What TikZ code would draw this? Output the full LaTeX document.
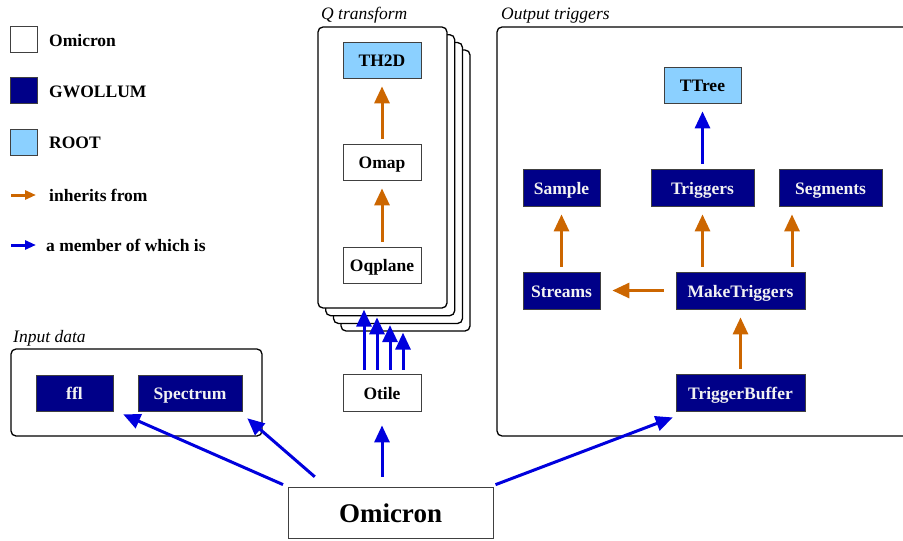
\documentclass[tikz,border=0pt]{standalone}
\usepackage{fontspec}
\setmainfont{Liberation Serif}
\usetikzlibrary{arrows.meta}
\definecolor{gwollum}{RGB}{0,0,136}
\definecolor{rootblue}{RGB}{139,208,255}
\definecolor{inhcol}{RGB}{204,102,0}
\definecolor{memcol}{RGB}{0,0,221}
\begin{document}
\begin{tikzpicture}[x=1pt,y=1pt,
    box/.style={draw=black!75,line width=0.8pt,inner sep=0pt,minimum height=36pt,text height=14pt,text depth=1pt,font=\fontsize{17.5}{20}\selectfont\bfseries},
    omibox/.style={box,fill=white},
    gwbox/.style={box,fill=gwollum,text=white!95!black},
    rootbox/.style={box,fill=rootblue},
    groupbox/.style={draw=black,line width=1.3pt,rounded corners=5pt},
    grouptitle/.style={anchor=base west,inner sep=0pt,font=\fontsize{17.5}{20}\selectfont\itshape},
    legendtext/.style={anchor=west,inner sep=0pt,font=\fontsize{17.5}{20}\selectfont\bfseries},
    inherit/.style={draw=inhcol,line width=3pt,-{Triangle[length=17pt,width=15pt]},shorten <=5pt,shorten >=8pt},
    member/.style={draw=memcol,line width=3pt,-{Triangle[length=17pt,width=15pt]},shorten <=5pt,shorten >=8pt}]
    \useasboundingbox (0,0) rectangle (903,-541);
    % legend
    \node[omibox,minimum width=27pt,minimum height=26pt] (lomi) at (23.5,-39.5) {};
    \node[legendtext] (lomitext) at (49,-41) {Omicron};
    \node[gwbox,minimum width=27pt,minimum height=26pt] (lgw) at (23.5,-90.5) {};
    \node[legendtext] (lgwtext) at (49,-92) {GWOLLUM};
    \node[rootbox,minimum width=27pt,minimum height=26pt] (lroot) at (23.5,-142) {};
    \node[legendtext] (lroottext) at (49,-143) {ROOT};
    \draw[inhcol,line width=3pt,-{Triangle[length=11pt,width=9pt]}] (11,-195)--(36,-195);
    \node[legendtext] (linh) at (49,-195) {inherits from};
    \draw[memcol,line width=3pt,-{Triangle[length=11pt,width=9pt]}] (11,-245)--(36,-245);
    \node[legendtext] (lmem) at (46,-245) {a member of which is};
    % Q transform
    \foreach \i/\d in {3/23,2/15.5,1/7.7,0/0}
        \node[groupbox,fill=white,minimum width=129pt,minimum height=281pt,inner sep=0pt] (q\i) at (382.5+\d,-167.5-\d) {};
    \node[grouptitle] (qtitle) at (321,-19) {Q transform};
    \node[rootbox,minimum width=78pt] (th2d) at (382,-60) {TH2D};
    \node[omibox,minimum width=78pt] (omap) at (382,-162) {Omap};
    \node[omibox,minimum width=78pt] (oqplane) at (382,-265) {Oqplane};
    \draw[inherit] (oqplane) -- (omap);
    \draw[inherit] (omap) -- (th2d);
    \node[omibox,minimum width=78pt,minimum height=37pt] (otile) at (382,-392.5) {Otile};
    \foreach \i/\dx in {0/-18,1/-5,2/8,3/21}
        \draw[member,shorten <=4pt,shorten >=1pt] ([xshift=\dx]otile.north) -- ([xshift=\dx]otile.north |- q\i.south);
    % Input data
    \draw[groupbox] (11,-349) rectangle (262,-436);
    \node[grouptitle] (intitle) at (13,-342) {Input data};
    \node[gwbox,minimum width=77pt] (ffl) at (74.5,-393) {ffl};
    \node[gwbox,minimum width=104pt] (spectrum) at (190,-393) {Spectrum};
    % Output triggers
    \draw[groupbox] (497,-27) rectangle (930,-436);
    \node[grouptitle] (outtitle) at (501,-19) {Output triggers};
    \node[rootbox,minimum width=77pt] (ttree) at (702.5,-85) {TTree};
    \node[gwbox,minimum width=77pt,minimum height=37pt] (sample) at (561.5,-187.5) {Sample};
    \node[gwbox,minimum width=103pt,minimum height=37pt] (triggers) at (702.5,-187.5) {Triggers};
    \node[gwbox,minimum width=103pt,minimum height=37pt] (segments) at (830.5,-187.5) {Segments};
    \node[gwbox,minimum width=77pt,minimum height=37pt] (streams) at (561.5,-290.5) {Streams};
    \node[gwbox,minimum width=129pt,minimum height=37pt] (maketriggers) at (740.5,-290.5) {MakeTriggers};
    \node[gwbox,minimum width=129pt,minimum height=37pt] (triggerbuffer) at (740.5,-392.5) {TriggerBuffer};
    \draw[member] (triggers) -- (ttree);
    \draw[inherit] (streams) -- (sample);
    \draw[inherit] (maketriggers.north -| triggers.south) -- (triggers);
    \draw[inherit] ([xshift=51.5pt]maketriggers.north) -- ([xshift=51.5pt]maketriggers.north |- segments.south);
    \draw[inherit,shorten <=12pt,shorten >=12pt] (maketriggers) -- (streams);
    \draw[inherit] (triggerbuffer) -- (maketriggers);
    % Omicron
    \node[omibox,minimum width=205pt,minimum height=51pt,text height=21pt,text depth=2pt,font=\fontsize{27}{32}\selectfont\bfseries] (omicron) at (390.5,-512.5) {Omicron};
    \draw[member,shorten <=10pt,shorten >=14pt] (omicron.north -| otile.south) -- (otile);
    \draw[member,shorten <=5pt,shorten >=7.5pt] (omicron.north west) -- ([xshift=3pt]ffl.south east);
    \draw[member,shorten <=15pt,shorten >=10.5pt] ([xshift=38.5pt]omicron.north west) -- ([xshift=-3pt]spectrum.south east);
    \draw[member,shorten <=5.5pt,shorten >=17pt] ([xshift=-3pt]omicron.north east) -- ([xshift=13pt]triggerbuffer.south west);
\end{tikzpicture}
\end{document}
